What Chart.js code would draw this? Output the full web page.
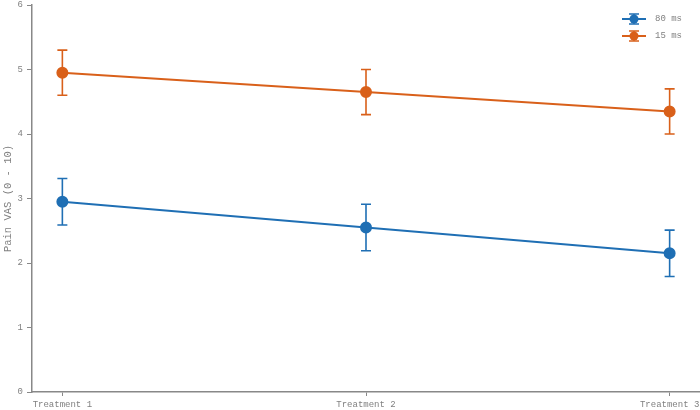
<!DOCTYPE html>
<html>
<head>
<meta charset="utf-8">
<script src="https://cdn.jsdelivr.net/npm/chart.js@4"></script>
<style>
  html, body { margin: 0; padding: 0; background: #fff; }
  #wrap { width: 700px; height: 410px; }
</style>
</head>
<body>
<div id="wrap"><canvas id="pain-chart"></canvas></div>
<script>
const categories = ['Treatment 1', 'Treatment 2', 'Treatment 3'];
const seriesNames = ['80 ms', '15 ms'];
const values80 = [2.95, 2.55, 2.15];
const errors80 = [0.36, 0.36, 0.36];
const values15 = [4.95, 4.65, 4.35];
const errors15 = [0.35, 0.35, 0.35];
const yTicks = [0, 1, 2, 3, 4, 5, 6];

const blue = '#1f6fb4';
const orange = '#d9601a';
const textGrey = '#808080';
const axisGrey = '#888';
const family = '"Liberation Mono", "DejaVu Sans Mono", monospace';
const font = { family: family, size: 9 };
const titleFont = { family: family, size: 10.5 };

function points(vals) {
    return vals.map(function (v, i) { return { x: i, y: v }; });
}

// error bars + legend drawn with the chart scales
const errorBars = {
    id: 'errorBars',
    afterDatasetsDraw: function (chart) {
        const ctx = chart.ctx;
        const xs = chart.scales.x, ys = chart.scales.y;
        chart.data.datasets.forEach(function (ds) {
            ctx.save();
            ctx.strokeStyle = ds.borderColor;
            ctx.lineWidth = 1.6;
            ds.data.forEach(function (p, i) {
                const px = xs.getPixelForValue(p.x);
                const top = ys.getPixelForValue(p.y + ds.errors[i]);
                const bot = ys.getPixelForValue(p.y - ds.errors[i]);
                ctx.beginPath();
                ctx.moveTo(px, top); ctx.lineTo(px, bot);
                ctx.moveTo(px - 5, top); ctx.lineTo(px + 5, top);
                ctx.moveTo(px - 5, bot); ctx.lineTo(px + 5, bot);
                ctx.stroke();
            });
            ctx.restore();
        });
    },
    afterDraw: function (chart) {
        const ctx = chart.ctx;
        const area = chart.chartArea;
        chart.data.datasets.forEach(function (ds, i) {
            const cx = area.right - 66;
            const cy = area.top + 14 + i * 17;
            ctx.save();
            ctx.strokeStyle = ds.borderColor;
            ctx.fillStyle = ds.borderColor;
            ctx.lineWidth = 2;
            ctx.beginPath();
            ctx.moveTo(cx - 12, cy); ctx.lineTo(cx + 12, cy);
            ctx.stroke();
            ctx.lineWidth = 1.4;
            ctx.beginPath();
            ctx.moveTo(cx, cy - 5); ctx.lineTo(cx, cy + 5);
            ctx.moveTo(cx - 5, cy - 5); ctx.lineTo(cx + 5, cy - 5);
            ctx.moveTo(cx - 5, cy + 5); ctx.lineTo(cx + 5, cy + 5);
            ctx.stroke();
            ctx.beginPath();
            ctx.arc(cx, cy, 4.5, 0, Math.PI * 2);
            ctx.fill();
            ctx.fillStyle = textGrey;
            ctx.font = font.size + 'px ' + font.family;
            ctx.textBaseline = 'middle';
            ctx.fillText(ds.label, cx + 21, cy);
            ctx.restore();
        });
    }
};

const ctx = document.getElementById('pain-chart').getContext('2d');
const painChart = new Chart(ctx, {
    type: 'line',
    data: {
        datasets: [
            {
                label: seriesNames[0],
                data: points(values80),
                errors: errors80,
                borderColor: blue,
                backgroundColor: blue,
                borderWidth: 2,
                pointRadius: 5,
                pointHoverRadius: 5,
                tension: 0
            },
            {
                label: seriesNames[1],
                data: points(values15),
                errors: errors15,
                borderColor: orange,
                backgroundColor: orange,
                borderWidth: 2,
                pointRadius: 5,
                pointHoverRadius: 5,
                tension: 0
            }
        ]
    },
    options: {
        responsive: true,
        maintainAspectRatio: false,
        animation: false,
        layout: { padding: 0, autoPadding: false },
        plugins: {
            legend: { display: false },
            tooltip: { enabled: false }
        },
        scales: {
            x: {
                type: 'linear',
                min: -0.1,
                max: 2.1,
                afterBuildTicks: function (axis) {
                    axis.ticks = categories.map(function (c, i) { return { value: i }; });
                },
                afterFit: function (axis) {
                    axis.height = 18;
                    axis.paddingLeft = 0;
                    axis.paddingRight = 0;
                },
                ticks: {
                    color: textGrey,
                    font: font,
                    padding: 3,
                    maxRotation: 0,
                    callback: function (v) { return categories[v]; }
                },
                grid: { drawOnChartArea: false, color: axisGrey, tickLength: 4 },
                border: { color: axisGrey, width: 1.5 }
            },
            y: {
                min: 0,
                max: 6,
                afterBuildTicks: function (axis) {
                    axis.ticks = yTicks.map(function (v) { return { value: v }; });
                },
                afterFit: function (axis) {
                    axis.width = 32;
                    axis.paddingTop = 5;
                },
                ticks: { color: textGrey, font: font, padding: 4 },
                grid: { drawOnChartArea: false, color: axisGrey, tickLength: 5 },
                border: { color: axisGrey, width: 1.5 },
                title: { display: true, text: 'Pain VAS (0 - 10)', color: textGrey, font: titleFont, padding: { top: 2, bottom: 0 } }
            }
        }
    },
    plugins: [errorBars]
});
</script>
</body>
</html>
